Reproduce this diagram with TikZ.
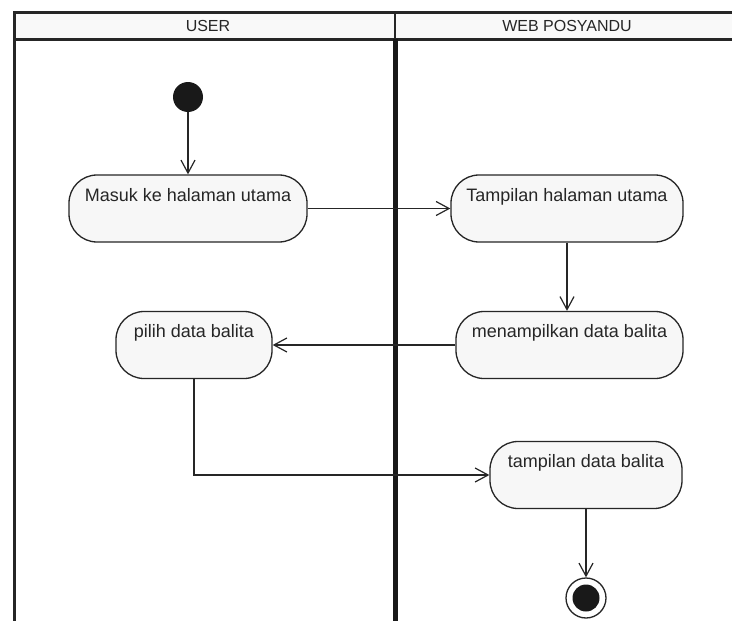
\documentclass[tikz,border=0pt]{standalone}
\usepackage{fontspec}
\setmainfont{Liberation Sans}
\usetikzlibrary{arrows.meta}
\begin{document}
\begin{tikzpicture}[x=1pt,y=-1pt,
  act/.style={draw=black!85, line width=1.3pt, fill=gray!6, rounded corners=28pt,
    inner xsep=0pt, inner ysep=0pt, text height=26pt, text depth=41pt,
    font=\fontsize{18}{20}\selectfont, text=black!85},
  flow/.style={draw=black!85, line width=1.4pt,
    -{Straight Barb[length=13pt,width=14pt,line width=1.2pt]}},
  lane/.style={draw=black!85, line width=3pt},
  head/.style={font=\fontsize{16}{18}\selectfont, text=black!85, inner sep=0pt},
  startstate/.style={circle, fill=black!90, minimum size=30pt, inner sep=0pt},
  endstate/.style={circle, draw=black!85, line width=1.3pt, fill=white, minimum size=40pt, inner sep=0pt,
    path picture={\fill[black!90] (path picture bounding box.center) circle[radius=13.5pt];}}
]
\useasboundingbox (0,0) rectangle (732,621);
\fill[white] (0,0) rectangle (732,621);

% swimlane header and borders
\fill[gray!5] (14,12) rectangle (732,39);
\draw[lane] (732,12) -- (14,12) -- (14,621);
\draw[lane] (14,39) -- (732,39);
\draw[draw=black!85, line width=2pt] (395,12) -- (395,39);
\draw[draw=black!90, line width=5pt] (395.5,39) -- (395.5,621);
\node[head] (hUser) at (208,26) {USER};
\node[head] (hWeb) at (567,26) {WEB POSYANDU};

% states and actions
\node[startstate] (start) at (188,97) {};
\node[act, minimum width=238pt] (n1) at (188,208.5) {Masuk ke halaman utama};
\node[act, minimum width=232pt] (n2) at (567,208.5) {Tampilan halaman utama};
\node[act, minimum width=227pt] (n3) at (569.5,345) {menampilkan data balita};
\node[act, minimum width=156pt] (n4) at (194,345) {pilih data balita};
\node[act, minimum width=192pt] (n5) at (586,475) {tampilan data balita};
\node[endstate] (stop) at (586,598) {};

% control flow
\draw[flow] (start.south) -- (start.south |- n1.north);
\draw[flow] (n1.east) -- (n2.west);
\draw[flow] (n2.south) -- (n2.south |- n3.north);
\draw[flow] (n3.west) -- (n4.east);
\draw[flow] (n4.south) |- (n5.west);
\draw[flow] (n5.south) -- (stop.north);
\end{tikzpicture}
\end{document}
